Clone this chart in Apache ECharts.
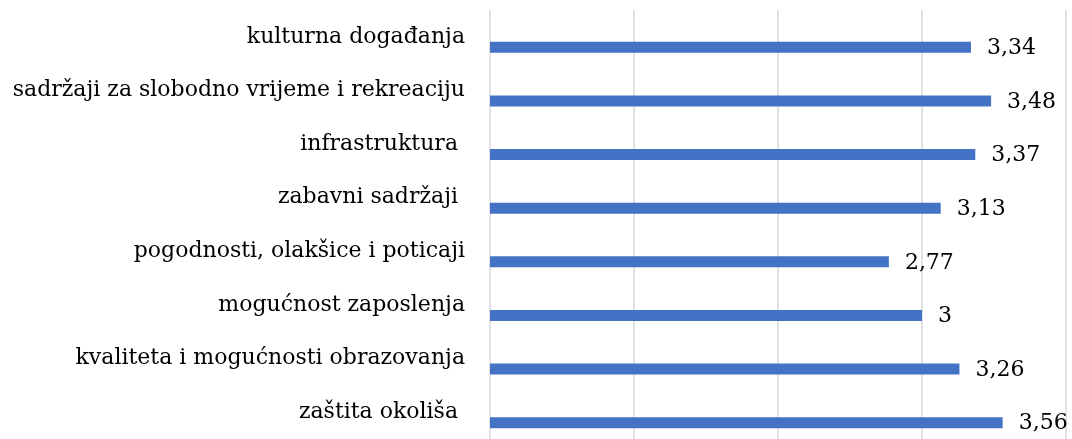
<!DOCTYPE html>
<html>
<head>
<meta charset="utf-8">
<script src="https://cdn.jsdelivr.net/npm/echarts@6/dist/echarts.min.js"></script>
<style>
  html, body { margin: 0; padding: 0; background: #ffffff; }
  #chart { width: 1072px; height: 439px; }
</style>
</head>
<body>
<div id="chart"></div>
<script>
const categories = [
  "kulturna događanja",
  "sadržaji za slobodno vrijeme i rekreaciju",
  "infrastruktura ",
  "zabavni sadržaji ",
  "pogodnosti, olakšice i poticaji",
  "mogućnost zaposlenja",
  "kvaliteta i mogućnosti obrazovanja",
  "zaštita okoliša "
];
const values = [3.34, 3.48, 3.37, 3.13, 2.77, 3, 3.26, 3.56];
const axisMin = 0;
const axisMax = 4;
const axisStep = 1;

const FONT = "DejaVu Serif";
const chart = echarts.init(document.getElementById('chart'), null, { renderer: 'canvas' });
chart.setOption({
  animation: false,
  backgroundColor: '#ffffff',
  grid: { left: 490, top: 10, width: 576, height: 432, containLabel: false },
  xAxis: {
    type: 'value',
    min: axisMin, max: axisMax, interval: axisStep,
    axisLine: { show: false },
    axisTick: { show: false },
    axisLabel: { show: false },
    splitLine: { show: true, lineStyle: { color: '#d9d9d9', width: 1.5 } }
  },
  yAxis: {
    type: 'category',
    inverse: true,
    data: categories,
    axisLine: { show: false },
    axisTick: { show: false },
    axisLabel: {
      margin: 25,
      color: '#000000',
      fontFamily: FONT,
      fontSize: 22,
      padding: [2, 0, 0, 0]
    }
  },
  series: [
    {
      // empty clustered slot (Excel-style offset of the visible bar)
      type: 'bar',
      data: [],
      barWidth: 11,
      barGap: '91%',
      silent: true
    },
    {
      type: 'bar',
      data: values,
      barWidth: 11,
      barGap: '91%',
      itemStyle: { color: '#4472C4' },
      label: {
        show: true,
        position: 'right',
        distance: 16,
        offset: [0, 1],
        color: '#000000',
        fontFamily: FONT,
        fontSize: 22,
        formatter: p => String(p.value).replace('.', ',')
      }
    }
  ]
});
</script>
</body>
</html>
